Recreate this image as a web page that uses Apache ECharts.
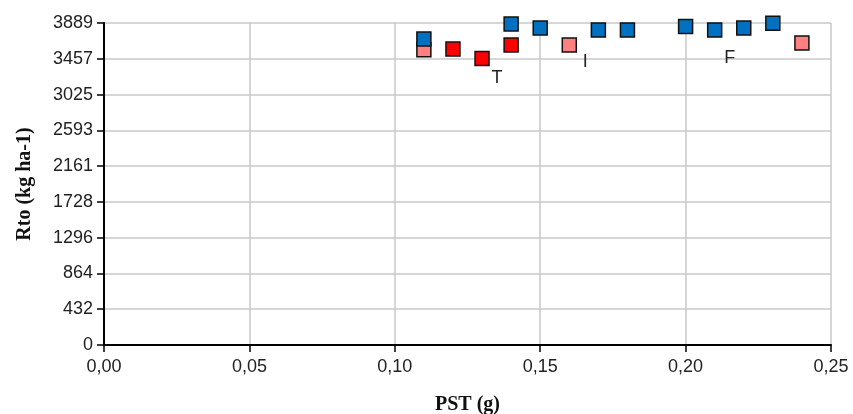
<!DOCTYPE html>
<html>
<head>
<meta charset="utf-8">
<script src="https://cdn.jsdelivr.net/npm/echarts@6/dist/echarts.min.js"></script>
<style>
  html, body { margin: 0; padding: 0; background: #fff; }
  #chart { width: 853px; height: 414px; }
</style>
</head>
<body>
<div id="chart"></div>
<script>
// datos: [PST (g), Rto (kg ha-1)]
const serieI = [[0.11, 3566], [0.16, 3623], [0.24, 3647]];
const serieT = [[0.12, 3574], [0.13, 3461], [0.14, 3623]];
const serieF = [[0.11, 3695], [0.14, 3877], [0.15, 3828], [0.17, 3804], [0.18, 3804],
                [0.20, 3848], [0.21, 3804], [0.22, 3828], [0.23, 3885]];
// puntos que llevan la etiqueta (índice dentro de cada serie)
const etiquetas = { I: 1, T: 1, F: 6 };
const yMax = 3889;

function conEtiqueta(data, idx, txt, offset) {
    return data.map((d, i) => i === idx
        ? { value: d, label: { show: true, formatter: txt, position: 'inside', offset: offset,
                               color: '#222', fontSize: 18, fontFamily: 'Liberation Sans' } }
        : d);
}

let myChart = echarts.init(document.getElementById('chart'));
let marca = { symbol: 'rect', symbolSize: 14 };
let nombreEje = { fontFamily: 'Liberation Serif', fontWeight: 'bold', fontSize: 20, color: '#111' };

myChart.setOption({
    animation: false,
    grid: { left: 104, right: 22, top: 23, bottom: 69, outerBoundsMode: 'none' },
    xAxis: {
        type: 'value',
        min: 0, max: 0.25, interval: 0.05,
        name: 'PST (g)',
        nameLocation: 'middle',
        nameGap: 50,
        nameTextStyle: nombreEje,
        axisLine: { show: true, onZero: false, lineStyle: { color: '#000', width: 2 } },
        axisTick: { show: true, length: 7, lineStyle: { color: '#000', width: 1.5 } },
        axisLabel: { color: '#222', fontSize: 18, fontFamily: 'Liberation Sans', margin: 13,
                     formatter: v => v.toFixed(2).replace('.', ',') },
        splitLine: { show: true, lineStyle: { color: '#c8c8c8', width: 1.5 } }
    },
    yAxis: {
        type: 'value',
        min: 0, max: yMax, interval: yMax / 9,
        name: 'Rto (kg ha-1)',
        nameLocation: 'middle',
        nameGap: 69,
        nameTextStyle: nombreEje,
        axisLine: { show: true, lineStyle: { color: '#000', width: 2 } },
        axisTick: { show: true, length: 7, lineStyle: { color: '#000', width: 1.5 } },
        axisLabel: { color: '#222', fontSize: 18, fontFamily: 'Liberation Sans', margin: 11,
                     formatter: v => Math.round(v) },
        splitLine: { show: true, lineStyle: { color: '#c8c8c8', width: 1.5 } }
    },
    series: [
        {
            type: 'scatter', name: 'I', ...marca,
            itemStyle: { color: '#ff8080', borderColor: '#111', borderWidth: 1.5, opacity: 1 },
            data: conEtiqueta(serieI, etiquetas.I, 'I', [16, 17])
        },
        {
            type: 'scatter', name: 'T', ...marca,
            itemStyle: { color: '#ff0000', borderColor: '#111', borderWidth: 1.5, opacity: 1 },
            data: conEtiqueta(serieT, etiquetas.T, 'T', [15, 20])
        },
        {
            type: 'scatter', name: 'F', ...marca,
            itemStyle: { color: '#0070c0', borderColor: '#111', borderWidth: 1.5, opacity: 1 },
            data: conEtiqueta(serieF, etiquetas.F, 'F', [15, 28])
        }
    ]
});
</script>
</body>
</html>
